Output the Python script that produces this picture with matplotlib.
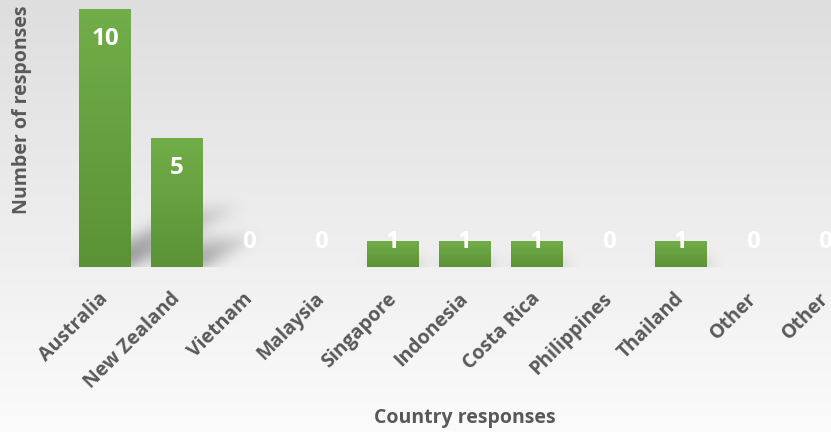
import numpy as np
import matplotlib
matplotlib.use("Agg")
import matplotlib.pyplot as plt
from matplotlib import font_manager as fm
from matplotlib.colors import LinearSegmentedColormap
from matplotlib.transforms import ScaledTranslation

countries = ["Australia", "New Zealand", "Vietnam", "Malaysia", "Singapore",
             "Indonesia", "Costa Rica", "Philippines", "Thailand", "Other", "Other"]
responses = [10, 5, 0, 0, 1, 1, 1, 0, 1, 0, 0]

GRAY = "#595959"

# pick a bold file directly so the weight really is bold
bold_file = None
for fam in ("Open Sans", "Lato"):
    for f in fm.fontManager.ttflist:
        if f.name == fam and f.weight == 700 and f.style == "normal":
            bold_file = f.fname
            break
    if bold_file:
        break

def bold(size):
    if bold_file:
        return fm.FontProperties(fname=bold_file, size=size)
    return fm.FontProperties(family="DejaVu Sans", weight="bold", size=size)

W, H = 831, 432
fig = plt.figure(figsize=(W / 100, H / 100), dpi=100)

# background: light gray at the top fading to near white
bg = fig.add_axes([0, 0, 1, 1], zorder=0)
grad = np.linspace(0, 1, 256).reshape(-1, 1)
bg_cmap = LinearSegmentedColormap.from_list("bg", ["#fbfbfb", "#dedede"])
bg.imshow(grad, cmap=bg_cmap, aspect="auto", extent=[0, 1, 0, 1], origin="lower")
bg.set_axis_off()

# plot area (runs a bit past the right edge, like the cropped original)
left, right, base, top = 69, 861, 267, 0
ax = fig.add_axes([left / W, (H - base) / H, (right - left) / W, (base - top) / H], zorder=1)
ax.patch.set_alpha(0)
x = np.arange(len(countries))
xlim = (-0.5, len(countries) - 0.5)
ylim = (0, 10.35)

# soft cast shadows behind the bars
pw, ph = right - left, base - top
gx = np.linspace(xlim[0], xlim[1], pw)
gy = np.linspace(ylim[0], ylim[1], ph)
X, Y = np.meshgrid(gx, gy)
mask = np.zeros_like(X)
width = 0.72
for xi, v in zip(x, responses):
    if v <= 0:
        continue
    dx, dy = 0.153 * v, 0.233 * v
    t = Y / dy
    sx = X - t * dx
    inside = (t <= 1) & (sx >= xi - width / 2) & (sx <= xi + width / 2)
    mask = np.maximum(mask, np.where(inside, 1 - 0.75 * t, 0))

def blur(a, sigma, axis):
    k = np.arange(-3 * sigma, 3 * sigma + 1)
    k = np.exp(-0.5 * (k / sigma) ** 2)
    k /= k.sum()
    return np.apply_along_axis(lambda r: np.convolve(r, k, mode="same"), axis, a)

mask = blur(blur(mask, 7, 0), 7, 1)
shadow = np.zeros(mask.shape + (4,))
shadow[..., :3] = 0.33
shadow[..., 3] = np.clip(mask * 0.65, 0, 1)
ax.imshow(shadow, extent=[*xlim, *ylim], origin="lower", aspect="auto", zorder=2)

# bars with a vertical green gradient
bars = ax.bar(x, responses, width=width, color="none", edgecolor="none", zorder=3)
green = LinearSegmentedColormap.from_list("g", ["#5b9237", "#71ad48"])
for b in bars:
    if b.get_height() <= 0:
        continue
    ax.imshow(grad, cmap=green, aspect="auto", origin="lower", zorder=3,
              extent=[b.get_x(), b.get_x() + b.get_width(), 0, b.get_height()])

# value labels
for xi, v in zip(x, responses):
    ax.text(xi, max(v - 1.15, 0.98), str(v), color="white", fontproperties=bold(17.5),
            ha="center", va="center", zorder=4)

ax.set_xlim(*xlim)
ax.set_ylim(*ylim)
ax.set_yticks([])
ax.set_xticks(x)
ax.set_xticklabels(countries, rotation=45, ha="right", va="center",
                   rotation_mode="anchor", fontproperties=bold(14), color=GRAY)
ax.tick_params(axis="x", length=0, pad=0)
off = ScaledTranslation(0.5 / 100, -29 / 100, fig.dpi_scale_trans)
for lbl in ax.get_xticklabels():
    lbl.set_transform(lbl.get_transform() + off)
for s in ax.spines.values():
    s.set_visible(False)

fig.text(22 / W, 1 - 110 / H, "Number of responses", rotation=90, ha="center", va="center",
         fontproperties=bold(14), color=GRAY)
fig.text(465 / W, 1 - 418 / H, "Country responses", ha="center", va="center",
         fontproperties=bold(14), color=GRAY)

fig.savefig("out.png", dpi=100)
